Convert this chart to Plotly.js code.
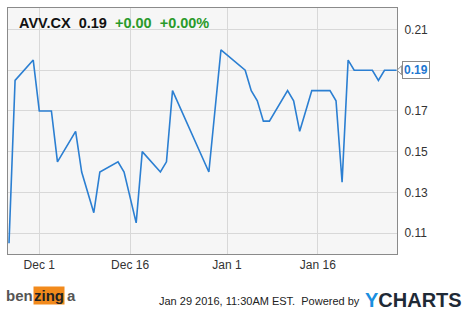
<!DOCTYPE html>
<html><head><meta charset="utf-8">
<script src="https://cdn.plot.ly/plotly-3.0.1.min.js"></script>
<style>html,body{margin:0;padding:0;background:#fff}#c{width:471px;height:314px}</style>
</head><body><div id="c"></div>
<script>
const dates = ["2015-11-26","2015-11-27","2015-11-30","2015-12-01","2015-12-02","2015-12-03","2015-12-04","2015-12-07","2015-12-08","2015-12-09","2015-12-10","2015-12-11","2015-12-14","2015-12-15","2015-12-16","2015-12-17","2015-12-18","2015-12-21","2015-12-22","2015-12-23","2015-12-29","2015-12-31","2016-01-04","2016-01-05","2016-01-06","2016-01-07","2016-01-08","2016-01-11","2016-01-12","2016-01-13","2016-01-14","2016-01-15","2016-01-18","2016-01-19","2016-01-20","2016-01-21","2016-01-22","2016-01-25","2016-01-26","2016-01-27","2016-01-28","2016-01-29"];
const prices = [0.105,0.185,0.195,0.17,0.17,0.17,0.145,0.16,0.14,0.13,0.12,0.14,0.145,0.14,0.1275,0.115,0.15,0.14,0.145,0.18,0.14,0.20,0.19,0.18,0.175,0.165,0.165,0.18,0.175,0.16,0.17,0.18,0.18,0.175,0.135,0.195,0.19,0.19,0.185,0.19,0.19,0.19];
const xTickVals = ["2015-12-01","2015-12-16","2016-01-01","2016-01-16"];
const xTickText = ["Dec 1","Dec 16","Jan 1","Jan 16"];
const yTickVals = [0.11,0.13,0.15,0.17,0.19,0.21];
const yTickText = ["0.11","0.13","0.15","0.17","0.19","0.21"];
const ticker = "AVV.CX", lastPrice = "0.19", change = "+0.00", changePct = "+0.00%";
const stamp = "Jan 29 2016, 11:30AM EST.";

const last = prices[prices.length-1];
const F = "Arial, 'Liberation Sans', sans-serif";
const trace = {x: dates, y: prices, type: "scatter", mode: "lines",
  line: {color: "#2b7fd2", width: 1.6}, hoverinfo: "skip"};

const layout = {
  width: 471, height: 314,
  margin: {l: 8, r: 73.5, t: 8, b: 60},
  paper_bgcolor: "#ffffff", plot_bgcolor: "#f6f6f6",
  showlegend: false,
  xaxis: {type: "date", range: ["2015-11-25 20:00","2016-01-29 01:40"],
    tickvals: xTickVals, ticktext: xTickText, ticks: "",
    showgrid: true, gridcolor: "#d8d8d8", gridwidth: 1,
    showline: true, linecolor: "#8a8a8a", linewidth: 1, mirror: true,
    zeroline: false, tickfont: {family: F, size: 12, color: "#333"}},
  yaxis: {range: [0.0997, 0.2206], side: "right",
    tickvals: yTickVals, ticktext: yTickText, ticks: "",
    showgrid: true, gridcolor: "#d8d8d8", gridwidth: 1,
    showline: true, linecolor: "#8a8a8a", linewidth: 1, mirror: true,
    zeroline: false, ticklabelstandoff: 4,
    tickfont: {family: F, size: 12, color: "#333"}},
  shapes: [
    {type: "path", xref: "paper", yref: "y", layer: "above",
     path: "M 1.0 " + last + " L 1.012 " + (last+0.0022) + " L 1.012 " + (last-0.0022) + " Z",
     fillcolor: "#ffffff", line: {color: "#8a8a8a", width: 1}}
  ],
  annotations: [
    {xref: "paper", yref: "paper", x: 0.022, y: 0.94, xanchor: "left", yanchor: "middle",
     showarrow: false,
     text: "<b>" + ticker + "&nbsp;&nbsp;" + lastPrice + "&nbsp;&nbsp;<span style='color:#2a9a2a'>" + change + "&nbsp;&nbsp;" + changePct + "</span></b>",
     font: {family: F, size: 14.5, color: "#111"}},
    {xref: "paper", yref: "y", x: 1.012, y: last, xanchor: "left", yanchor: "middle",
     showarrow: false, text: "<b>" + lastPrice + "</b>", bgcolor: "#ffffff",
     bordercolor: "#8a8a8a", borderwidth: 1, borderpad: 1,
     font: {family: F, size: 12, color: "#1f78d1"}},
    {xref: "paper", yref: "paper", x: 0.911, y: -0.19, xanchor: "right", yanchor: "middle",
     showarrow: false, text: stamp + "&nbsp; Powered by",
     font: {family: F, size: 11, color: "#222"}},
    {xref: "paper", yref: "paper", x: 0.913, y: -0.185, xanchor: "left", yanchor: "middle",
     showarrow: false, text: "<b><span style='color:#1a8fe0'>Y</span>CHARTS</b>",
     font: {family: F, size: 20, color: "#1f2a36"}},
    {xref: "paper", yref: "paper", x: -0.01, y: -0.17, xanchor: "left", yanchor: "middle",
     showarrow: false, text: "<b>ben</b>",
     font: {family: F, size: 15, color: "#555"}},
    {xref: "paper", yref: "paper", x: 0.064, y: -0.17, xanchor: "left", yanchor: "middle",
     showarrow: false, text: "<b>zing</b>", bgcolor: "#f28a1c", borderpad: 0,
     font: {family: F, size: 15, color: "#222"}},
    {xref: "paper", yref: "paper", x: 0.147, y: -0.17, xanchor: "left", yanchor: "middle",
     showarrow: false, text: "<b>a</b>",
     font: {family: F, size: 15, color: "#555"}}
  ]
};
Plotly.newPlot("c", [trace], layout, {displayModeBar: false, staticPlot: true});
</script></body></html>
